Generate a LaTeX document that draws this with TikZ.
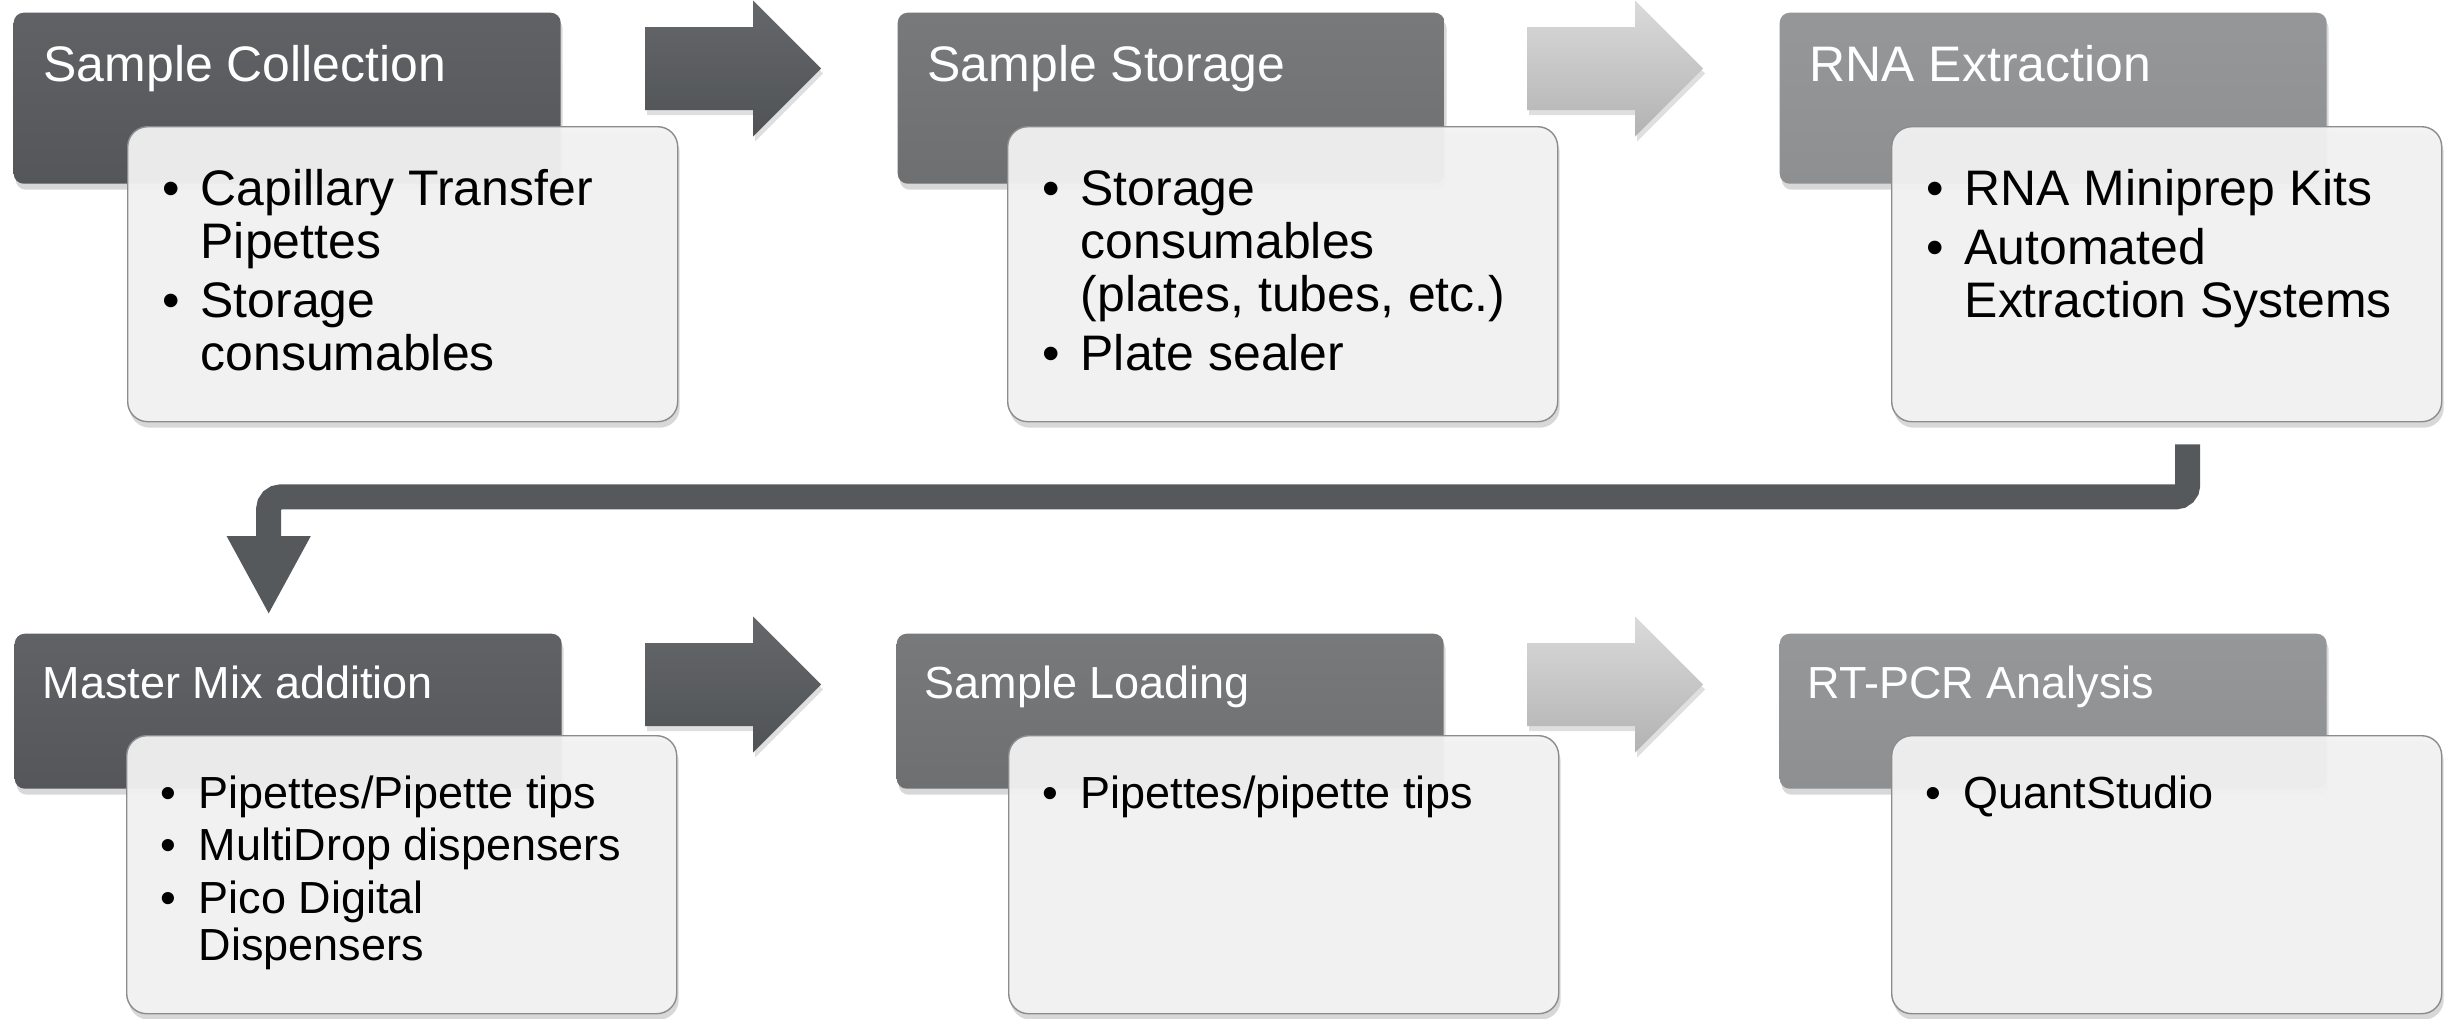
\documentclass[tikz,border=0pt]{standalone}
\usepackage{fontspec}
\setmainfont{Liberation Sans}
\usetikzlibrary{positioning, calc, shadows, arrows.meta}

\definecolor{headdark}{HTML}{545659}
\definecolor{headmid}{HTML}{6E6F71}
\definecolor{headlight}{HTML}{8E8F91}
\definecolor{bodyfill}{HTML}{F3F3F3}
\definecolor{arrowdark}{HTML}{505356}
\definecolor{arrowlight}{HTML}{C2C2C2}
\definecolor{linkgray}{HTML}{56595C}

\tikzstyle{head} = [rectangle, rounded corners=0.1cm, anchor=north west, minimum width=5.47cm, inner sep=0pt, drop shadow={opacity=0.3, shadow xshift=0.02cm, shadow yshift=-0.06cm}]
\tikzstyle{dark} = [top color=headdark!93!white, bottom color=headdark]
\tikzstyle{mid} = [top color=headmid!93!white, bottom color=headmid]
\tikzstyle{light} = [top color=headlight!93!white, bottom color=headlight]
\tikzstyle{body} = [rectangle, rounded corners=0.2cm, anchor=north west, minimum width=5.5cm, inner sep=0pt, draw=gray!90, fill=bodyfill, fill opacity=0.94, drop shadow={opacity=0.3, shadow xshift=0.02cm, shadow yshift=-0.06cm}]
\tikzstyle{title} = [anchor=base west, inner sep=0pt, text=white]
\tikzstyle{items} = [anchor=base west, inner sep=0pt, align=left]
\tikzstyle{darkarrow} = [top color=arrowdark!88!white, bottom color=arrowdark, drop shadow={opacity=0.25, shadow xshift=0.02cm, shadow yshift=-0.05cm}]
\tikzstyle{lightarrow} = [top color=arrowlight!60!white, bottom color=arrowlight!92!black, drop shadow={opacity=0.25, shadow xshift=0.02cm, shadow yshift=-0.05cm}]
\tikzstyle{link} = [draw=linkgray, line width=0.25cm, rounded corners=0.12cm, -{Triangle[width=0.78cm,length=0.79cm]}]

\newcommand{\bul}{\textbullet}
\newcommand{\blist}[1]{\begin{tabular}[t]{@{}p{0.38cm}@{}l@{}}#1\end{tabular}}

\begin{document}
\begin{tikzpicture}
\path[use as bounding box, fill=white] (0,0) rectangle (24.5,-10.19);

% top row
\node[head, dark, minimum height=1.71cm] (h1) at (0.13,-0.12) {};
\node[body, minimum height=2.95cm] (c1) at (1.27,-1.26) {};
\node[title, font=\fontsize{14.2}{17}\selectfont] (t1) at ($(h1.north west)+(0.30,-0.70)$) {Sample Collection};
\node[items, font=\fontsize{14.2}{15.1}\selectfont] (l1) at ($(c1.north west)+(0.35,-0.79)$)
  {\blist{\bul & Capillary Transfer\\ & Pipettes\\[0.06cm] \bul & Storage\\ & consumables}};

\node[head, mid, minimum height=1.71cm] (h2) at (8.97,-0.12) {};
\node[body, minimum height=2.95cm] (c2) at (10.07,-1.26) {};
\node[title, font=\fontsize{14.2}{17}\selectfont] (t2) at ($(h2.north west)+(0.30,-0.70)$) {Sample Storage};
\node[items, font=\fontsize{14.2}{15.1}\selectfont] (l2) at ($(c2.north west)+(0.35,-0.79)$)
  {\blist{\bul & Storage\\ & consumables\\ & (plates, tubes, etc.)\\[0.06cm] \bul & Plate sealer}};

\node[head, light, minimum height=1.71cm] (h3) at (17.79,-0.12) {};
\node[body, minimum height=2.95cm] (c3) at (18.91,-1.26) {};
\node[title, font=\fontsize{14.2}{17}\selectfont] (t3) at ($(h3.north west)+(0.30,-0.70)$) {RNA Extraction};
\node[items, font=\fontsize{14.2}{15.1}\selectfont] (l3) at ($(c3.north west)+(0.35,-0.79)$)
  {\blist{\bul & RNA Miniprep Kits\\[0.06cm] \bul & Automated\\ & Extraction Systems}};

% bottom row
\node[head, dark, minimum height=1.55cm] (h4) at (0.14,-6.33) {};
\node[body, minimum height=2.78cm] (c4) at (1.26,-7.35) {};
\node[title, font=\fontsize{12.8}{15}\selectfont] (t4) at ($(h4.north west)+(0.28,-0.65)$) {Master Mix addition};
\node[items, font=\fontsize{12.8}{13.3}\selectfont] (l4) at ($(c4.north west)+(0.34,-0.73)$)
  {\blist{\bul & Pipettes/Pipette tips\\[0.06cm] \bul & MultiDrop dispensers\\[0.06cm] \bul & Pico Digital\\ & Dispensers}};

\node[head, mid, minimum height=1.55cm] (h5) at (8.96,-6.33) {};
\node[body, minimum height=2.78cm] (c5) at (10.08,-7.35) {};
\node[title, font=\fontsize{12.8}{15}\selectfont] (t5) at ($(h5.north west)+(0.28,-0.65)$) {Sample Loading};
\node[items, font=\fontsize{12.8}{13.3}\selectfont] (l5) at ($(c5.north west)+(0.34,-0.73)$)
  {\blist{\bul & Pipettes/pipette tips}};

\node[head, light, minimum height=1.55cm] (h6) at (17.79,-6.33) {};
\node[body, minimum height=2.78cm] (c6) at (18.91,-7.35) {};
\node[title, font=\fontsize{12.8}{15}\selectfont] (t6) at ($(h6.north west)+(0.28,-0.65)$) {RT-PCR Analysis};
\node[items, font=\fontsize{12.8}{13.3}\selectfont] (l6) at ($(c6.north west)+(0.34,-0.73)$)
  {\blist{\bul & QuantStudio}};

% block arrows between the steps
\foreach \x/\y/\s in {6.45/-0.685/darkarrow, 15.27/-0.685/lightarrow, 6.45/-6.845/darkarrow, 15.27/-6.845/lightarrow}
  \path[\s] (\x,\y+0.415) -- ++(1.08,0) -- ++(0,0.265) -- ++(0.68,-0.68) -- ++(-0.68,-0.68) -- ++(0,0.265) -- ++(-1.08,0) -- cycle;

% from the first row to the second
\draw[link] ($(c3.south)+(0.21,-0.22)$) -- ++(0,-0.525) -| ($(h4.north)+(-0.195,0.18)$);
\end{tikzpicture}
\end{document}
